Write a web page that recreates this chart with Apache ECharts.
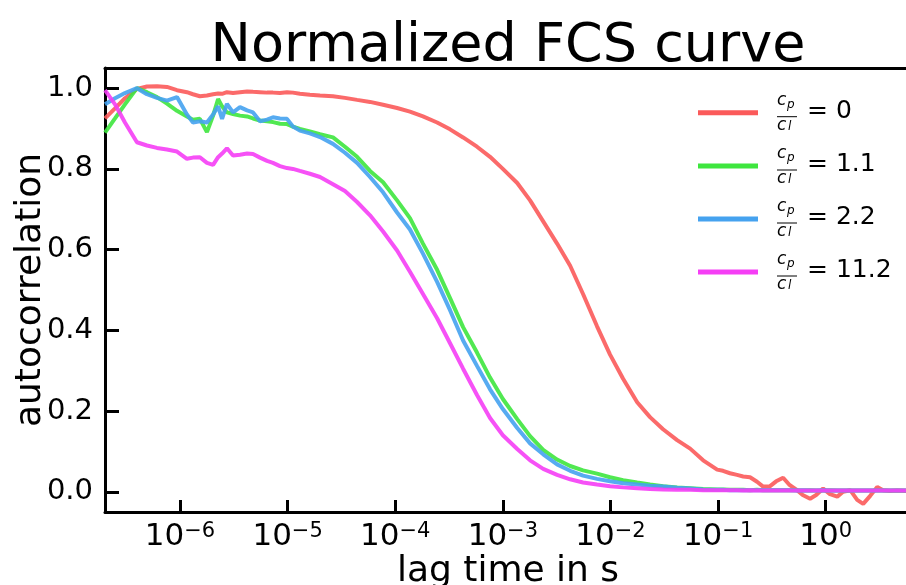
<!DOCTYPE html>
<html><head><meta charset="utf-8">
<script src="https://cdn.jsdelivr.net/npm/echarts@6/dist/echarts.min.js"></script>
<style>html,body{margin:0;padding:0;background:#fff}#c{width:906px;height:585px}</style>
</head><body><div id="c"></div>
<script>
// lag times (s)
const lagTime = [
 2.01e-7,2.49e-7,3.08e-7,3.98e-7,4.93e-7,6.11e-7,7.57e-7,9.38e-7,1.16e-6,1.32e-6,
 1.53e-6,1.78e-6,2.03e-6,2.26e-6,2.46e-6,2.73e-6,3.11e-6,3.61e-6,4.20e-6,4.77e-6,
 5.54e-6,6.44e-6,7.31e-6,8.49e-6,9.87e-6,1.12e-5,1.30e-5,
 1.61e-5,2.00e-5,2.64e-5,3.41e-5,4.42e-5,5.83e-5,7.71e-5,1.04e-4,1.37e-4,1.81e-4,
 2.45e-4,3.23e-4,4.27e-4,5.75e-4,7.60e-4,1.00e-3,1.36e-3,1.79e-3,2.37e-3,3.19e-3,
 4.22e-3,5.56e-3,7.50e-3,9.91e-3,1.31e-2,1.77e-2,2.33e-2,3.08e-2,4.16e-2,5.50e-2,
 7.26e-2,9.80e-2,0.111,0.129,0.150,0.171,0.198,0.230,0.262,0.304,
 0.346,0.402,0.457,0.542,0.611,0.716,0.815,0.946,1.08,1.28,
 1.45,1.69,1.96,2.23,2.59,3.01,3.41,3.97,4.61,5.59
];
const ratio0 = [
 0.925,0.950,0.975,0.998,1.004,1.005,1.003,0.995,0.990,0.985,
 0.980,0.982,0.985,0.987,0.986,0.990,0.988,0.990,0.992,0.991,
 0.990,0.989,0.989,0.988,0.990,0.989,0.986,
 0.984,0.982,0.980,0.976,0.971,0.966,0.959,0.951,0.942,0.930,
 0.915,0.898,0.878,0.855,0.830,0.800,0.765,0.722,0.670,0.615,
 0.560,0.490,0.410,0.340,0.280,0.222,0.185,0.155,0.128,0.107,
 0.078,0.055,0.052,0.046,0.042,0.038,0.036,0.025,0.013,0.014,
 0.026,0.035,0.018,0.004,-0.008,-0.017,-0.008,0.008,-0.005,-0.012,
 0.000,0.004,-0.020,-0.030,-0.010,0.012,0.004,0.002,0.003,0.002
];
const ratio1_1 = [
 0.890,0.925,0.960,1.000,0.990,0.978,0.962,0.944,0.930,0.922,
 0.924,0.891,0.932,0.973,0.955,0.940,0.936,0.932,0.930,0.925,
 0.920,0.918,0.916,0.912,0.911,0.905,0.899,
 0.893,0.886,0.878,0.855,0.830,0.795,0.767,0.722,0.678,0.615,
 0.550,0.480,0.408,0.345,0.283,0.230,0.180,0.138,0.104,0.080,
 0.064,0.053,0.045,0.036,0.029,0.023,0.018,0.014,0.011,0.009,
 0.007,0.006,0.006,0.005,0.005,0.005,0.004,0.005,0.004,0.004,
 0.004,0.004,0.004,0.004,0.003,0.004,0.003,0.003,0.004,0.003,
 0.003,0.003,0.003,0.003,0.003,0.003,0.003,0.003,0.003,0.003
];
const ratio2_2 = [
 0.960,0.975,0.988,1.000,0.985,0.976,0.969,0.978,0.935,0.915,
 0.918,0.915,0.935,0.955,0.924,0.961,0.940,0.953,0.945,0.940,
 0.918,0.922,0.928,0.925,0.924,0.905,0.895,
 0.888,0.879,0.862,0.840,0.815,0.780,0.742,0.692,0.650,0.590,
 0.520,0.450,0.375,0.312,0.254,0.205,0.158,0.120,0.093,0.068,
 0.052,0.040,0.032,0.026,0.021,0.018,0.015,0.013,0.010,0.008,
 0.006,0.005,0.005,0.004,0.004,0.004,0.004,0.004,0.004,0.004,
 0.004,0.004,0.004,0.003,0.004,0.003,0.003,0.004,0.003,0.003,
 0.003,0.003,0.003,0.003,0.003,0.003,0.003,0.003,0.003,0.003
];
const ratio11_2 = [
 0.995,0.960,0.915,0.866,0.858,0.852,0.848,0.843,0.825,0.828,
 0.829,0.815,0.810,0.829,0.838,0.851,0.833,0.835,0.838,0.837,
 0.828,0.820,0.815,0.807,0.802,0.800,0.795,
 0.788,0.780,0.762,0.745,0.718,0.685,0.645,0.598,0.545,0.490,
 0.430,0.368,0.305,0.240,0.183,0.140,0.106,0.078,0.057,0.042,
 0.031,0.023,0.018,0.014,0.011,0.009,0.007,0.006,0.005,0.005,
 0.004,0.004,0.004,0.004,0.004,0.003,0.004,0.003,0.003,0.003,
 0.003,0.003,0.003,0.003,0.003,0.003,0.003,0.003,0.003,0.003,
 0.003,0.003,0.003,0.003,0.003,0.003,0.003,0.003,0.003,0.003
];
const ratioValues = ['0', '1.1', '2.2', '11.2'];
const seriesNames = ['cp/cl = 0', 'cp/cl = 1.1', 'cp/cl = 2.2', 'cp/cl = 11.2'];
const seriesColors = ['#fb5a5a', '#3ee63e', '#45a2ef', '#f53ef5'];
const allValues = [ratio0, ratio1_1, ratio2_2, ratio11_2];

const FONT = 'DejaVu Sans';
const chart = echarts.init(document.getElementById('c'), null, {renderer: 'canvas'});

const xMin = 2.01e-7, xMax = 6.2;
const legendY = [112.7, 166, 219, 272];

const graphics = [];
legendY.forEach((y, i) => {
  graphics.push(
    {type: 'text', left: 777, top: y - 21, style: {text: 'c', font: 'italic 17px "' + FONT + '"', fill: '#000'}},
    {type: 'text', left: 787, top: y - 14, style: {text: 'p', font: 'italic 12px "' + FONT + '"', fill: '#000'}},
    {type: 'line', shape: {x1: 777, y1: y + 4, x2: 797, y2: y + 4}, style: {stroke: '#000', lineWidth: 1}},
    {type: 'text', left: 777, top: y + 4, style: {text: 'c', font: 'italic 17px "' + FONT + '"', fill: '#000'}},
    {type: 'text', left: 788, top: y + 8, style: {text: 'l', font: 'italic 12px "' + FONT + '"', fill: '#000'}},
    {type: 'text', left: 807, top: y - 14, style: {text: '= ' + ratioValues[i], font: '25px "' + FONT + '"', fill: '#000'}}
  );
});

const option = {
  animation: false,
  backgroundColor: '#fff',
  title: {
    text: 'Normalized FCS curve',
    left: 508, top: 20, padding: 0, textAlign: 'center',
    textStyle: {fontFamily: FONT, fontSize: 54, fontWeight: 'normal', color: '#000'}
  },
  grid: {left: 105, top: 68, width: 806, height: 444, containLabel: false, outerBoundsMode: 'none'},
  legend: seriesNames.map((n, i) => ({
    data: [n], left: 698, top: legendY[i] - 2.5, padding: 0, itemGap: 0,
    itemWidth: 60, itemHeight: 5, icon: 'rect', selectedMode: false,
    formatter: () => '', textStyle: {fontSize: 2}
  })),
  xAxis: [{
    type: 'log', logBase: 10, min: xMin, max: xMax, splitNumber: 7,
    name: 'lag time in s', nameLocation: 'middle', nameGap: 42, nameMoveOverlap: false,
    nameTextStyle: {fontFamily: FONT, fontSize: 36, color: '#000'},
    axisLine: {onZero: false, lineStyle: {color: '#000', width: 3}},
    axisTick: {inside: true, length: 12, lineStyle: {color: '#000', width: 3}},
    minorTick: {show: false},
    splitLine: {show: false},
    axisLabel: {
      margin: 9, color: '#000', showMinLabel: false, showMaxLabel: false,
      formatter: v => {
        const e = Math.log10(v), r = Math.round(e);
        if (Math.abs(e - r) > 1e-6) return '';
        return '{b|10}{s|' + (r < 0 ? '\u2212' + (-r) : r) + '}';
      },
      rich: {
        b: {fontFamily: FONT, fontSize: 31, color: '#000', verticalAlign: 'bottom'},
        s: {fontFamily: FONT, fontSize: 21, color: '#000', verticalAlign: 'top'}
      }
    }
  }, {
    type: 'log', logBase: 10, min: xMin, max: xMax, position: 'top',
    axisLine: {onZero: false, lineStyle: {color: '#000', width: 3}},
    axisTick: {show: false}, axisLabel: {show: false}, splitLine: {show: false}
  }],
  yAxis: {
    type: 'value', min: -0.05, max: 1.05, splitNumber: 5,
    name: 'autocorrelation', nameLocation: 'middle', nameGap: 56, nameMoveOverlap: false,
    nameTextStyle: {fontFamily: FONT, fontSize: 36, color: '#000'},
    axisLine: {onZero: false, lineStyle: {color: '#000', width: 3}},
    axisTick: {inside: true, length: 14, lineStyle: {color: '#000', width: 3}},
    splitLine: {show: false},
    axisLabel: {
      margin: 12, color: '#000', fontFamily: FONT, fontSize: 29,
      showMinLabel: false, showMaxLabel: false,
      formatter: v => {
        const k = v / 0.2;
        if (Math.abs(k - Math.round(k)) > 1e-6) return '';
        return v.toFixed(1);
      }
    }
  },
  series: seriesNames.map((n, i) => ({
    name: n, type: 'line', xAxisIndex: 0, showSymbol: false, symbol: 'none',
    data: lagTime.map((t, j) => [t, allValues[i][j]]),
    itemStyle: {color: seriesColors[i]},
    lineStyle: {color: seriesColors[i], width: 4, opacity: 0.9},
    z: 2 + i
  })),
  graphic: graphics
};
chart.setOption(option);
</script>
</body></html>
